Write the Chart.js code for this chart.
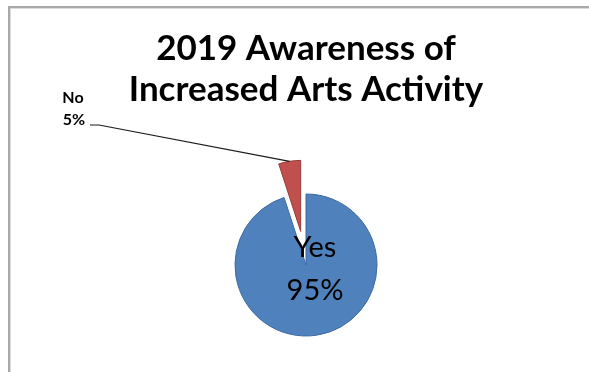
<!DOCTYPE html>
<html>
<head>
<meta charset="utf-8">
<title>2019 Awareness of Increased Arts Activity</title>
<script src="https://cdn.jsdelivr.net/npm/chart.js@4.4.1/dist/chart.umd.min.js"></script>
<style>
  html, body { margin: 0; padding: 0; background: #fff; }
  #wrap { position: relative; width: 589px; height: 372px; }
</style>
</head>
<body>
<div id="wrap"><canvas id="awarenessChart" width="589" height="372"></canvas></div>
<script>
// survey answers
const answers = ['Yes', 'No'];
const shares = [95, 5];
const chartTitle = ['2019 Awareness of', 'Increased Arts Activity'];

// slice looks
const sliceFill = ['#4f81bd', '#c0504d'];
const sliceEdge = ['#3c6aa0', '#9a3b38'];
const pullOut = [0, 34]; // px a slice is pulled away from the centre

const total = shares.reduce((a, b) => a + b, 0);
const pct = (v) => Math.round(v / total * 100) + '%';

// pull exploded slices out along their middle angle
const explodePlugin = {
    id: 'explode',
    afterDatasetUpdate(chart, args) {
        args.meta.data.forEach((arc, i) => {
            const d = pullOut[i] || 0;
            if (!d) return;
            const mid = (arc.startAngle + arc.endAngle) / 2;
            arc.x += Math.cos(mid) * d;
            arc.y += Math.sin(mid) * d;
        });
    }
};

// frame lines at the top and left
const framePlugin = {
    id: 'frame',
    beforeDraw(chart) {
        const ctx = chart.ctx;
        ctx.save();
        ctx.fillStyle = '#a9a9a9';
        ctx.fillRect(8, 6, chart.width - 8, 2);
        ctx.fillRect(8, 6, 2, chart.height - 6);
        ctx.fillStyle = '#dcdcdc';
        ctx.fillRect(10, 8, chart.width - 10, 1);
        ctx.fillRect(10, 8, 1, chart.height - 8);
        ctx.restore();
    }
};

// data labels: "Yes" inside its slice, "No" outside with a leader line
const labelPlugin = {
    id: 'sliceLabels',
    afterDatasetsDraw(chart) {
        const ctx = chart.ctx;
        const arcs = chart.getDatasetMeta(0).data;
        ctx.save();
        ctx.fillStyle = '#000';
        ctx.textAlign = 'center';
        ctx.textBaseline = 'middle';

        const yes = arcs[0];
        ctx.font = '29px Lato, "Open Sans", sans-serif';
        ctx.fillText(answers[0], yes.x + 9, yes.y - 17);
        ctx.fillText(pct(shares[0]), yes.x + 9, yes.y + 26);

        const no = arcs[1];
        ctx.font = 'bold 16px Lato, "Open Sans", sans-serif';
        ctx.fillText(answers[1], 73, 98);
        ctx.fillText(pct(shares[1]), 74, 120);

        const mid = (no.startAngle + no.endAngle) / 2;
        const ex = no.x + Math.cos(mid) * no.outerRadius;
        const ey = no.y + Math.sin(mid) * no.outerRadius;
        ctx.strokeStyle = '#1a1a1a';
        ctx.lineWidth = 1.2;
        ctx.beginPath();
        ctx.moveTo(90, 125);
        ctx.lineTo(99, 125);
        ctx.lineTo(ex, ey);
        ctx.stroke();
        ctx.restore();
    }
};

new Chart(document.getElementById('awarenessChart'), {
    type: 'pie',
    data: {
        labels: answers,
        datasets: [{
            data: shares,
            backgroundColor: sliceFill,
            borderColor: sliceEdge,
            borderWidth: 1
        }]
    },
    options: {
        responsive: false,
        animation: false,
        radius: 71,
        layout: { padding: { left: 23, right: 0, top: 0, bottom: 0 } },
        plugins: {
            legend: { display: false },
            tooltip: { enabled: false },
            title: {
                display: true,
                text: chartTitle,
                color: '#000',
                font: { family: 'Lato, "Open Sans", sans-serif', size: 35, weight: 'bold', lineHeight: 1.1714 },
                padding: { top: 28, bottom: 48 }
            }
        }
    },
    plugins: [explodePlugin, framePlugin, labelPlugin]
});
</script>
</body>
</html>
